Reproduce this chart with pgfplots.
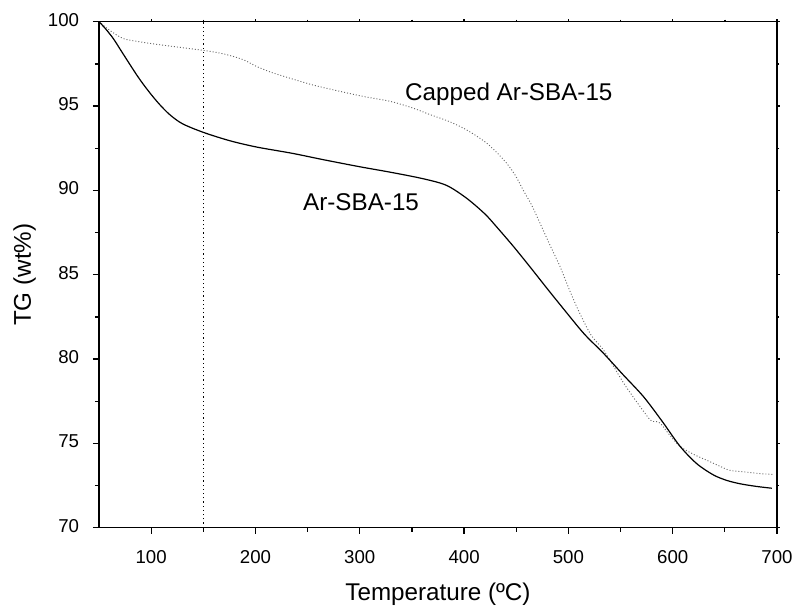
\documentclass[border=0pt]{standalone}
\usepackage{fontspec}
\setmainfont{Liberation Sans}
\usepackage{pgfplots}
\pgfplotsset{compat=1.18}
\begin{document}
\begin{tikzpicture}
\pgfplotsset{
  commonax/.style={
    scale only axis, width=678bp, height=506bp,
    at={(0,0)}, anchor=south west,
    xmin=50, xmax=700, ymin=70, ymax=100,
    xtick={100,200,...,700}, ytick={70,75,...,100},
    minor x tick num=1, minor y tick num=1,
    axis line style={line width=1.5bp},
    every tick/.style={black, line width=1.3bp},
    /pgf/number format/assume math mode=true,
    tick label style={font=\fontsize{18.7}{20}\selectfont},
  }
}
\begin{axis}[commonax,
  xtick pos=left, ytick pos=left, tick align=outside,
  major tick length=6bp, minor tick length=4bp,
  xlabel={Temperature (ºC)}, ylabel={TG (wt\%)},
  label style={font=\fontsize{24.3}{26}\selectfont},
  xlabel style={at={(axis description cs:0.5,-0.1429)}, anchor=base},
  ylabel style={at={(axis description cs:-0.1099,0.5)}, anchor=center, rotate=0},
  xticklabel style={yshift=-13bp},
  yticklabel style={xshift=-10.5bp, yshift=2bp},
]
\addplot[black, line width=0.8bp, dash pattern=on 1.2bp off 3bp] coordinates {(150,70) (150,100)};
\addplot[black!60, line width=0.9bp, dash pattern=on 1bp off 2bp, smooth] coordinates {
(50,100) (60,99.5) (73.3,99.0) (90,98.8) (105,98.66) (125,98.5) (150,98.3)
(165,98.15) (178.8,97.94) (190,97.7) (201,97.35) (215,97.0) (233,96.65)
(255,96.25) (281,95.87) (305,95.55) (329,95.28) (350,94.9) (367,94.5)
(385,94.1) (399,93.7) (410,93.3) (421.7,92.8) (432,92.2) (440.9,91.6)
(449,90.9) (456.8,90.0) (465,89.1) (472.8,88.05) (482,86.8) (492,85.48)
(501,84.1) (511,82.7) (522,81.4) (533.5,80.55) (543,79.6) (552.7,78.6)
(565,77.5) (578.3,76.4) (583,76.3) (588,76.2) (597,75.5) (607,74.83)
(620,74.35) (632.6,74.0) (645,73.65) (655,73.4) (670,73.3) (685,73.2)
(696.5,73.16)};
\addplot[black, line width=1.2bp, smooth] coordinates {
(50,100) (56,99.6) (63.7,99.0) (72,98.2) (82.9,97.15) (90,96.5) (98.9,95.77)
(108,95.1) (118,94.48) (130,93.95) (150,93.44) (175,92.95) (201,92.57)
(235,92.2) (265,91.82) (300,91.4) (329,91.08) (360,90.7) (383,90.3)
(402.5,89.53) (420,88.6) (431,87.85) (447,86.7) (463,85.48) (480,84.15)
(495,83.0) (515,81.5) (533.5,80.35) (552,79.1) (572,77.77) (590,76.3)
(607,74.83) (623,73.8) (639,73.13) (652,72.8) (665,72.6) (680,72.45)
(695,72.34)};
\node[anchor=base west, inner sep=0, font=\fontsize{24.3}{26}\selectfont] at (axis cs:343.4,95.30) {Capped Ar-SBA-15};
\node[anchor=base west, inner sep=0, font=\fontsize{24.3}{26}\selectfont] at (axis cs:245.6,88.80) {Ar-SBA-15};
\end{axis}
\begin{axis}[commonax,
  xtick pos=right, ytick pos=right, tick align=outside,
  major tick length=2.5bp, minor tick length=2bp,
  xticklabels={}, yticklabels={},
]
\end{axis}
\path (-99bp,-84.3bp) rectangle (701bp,527.7bp);
\end{tikzpicture}
\end{document}
